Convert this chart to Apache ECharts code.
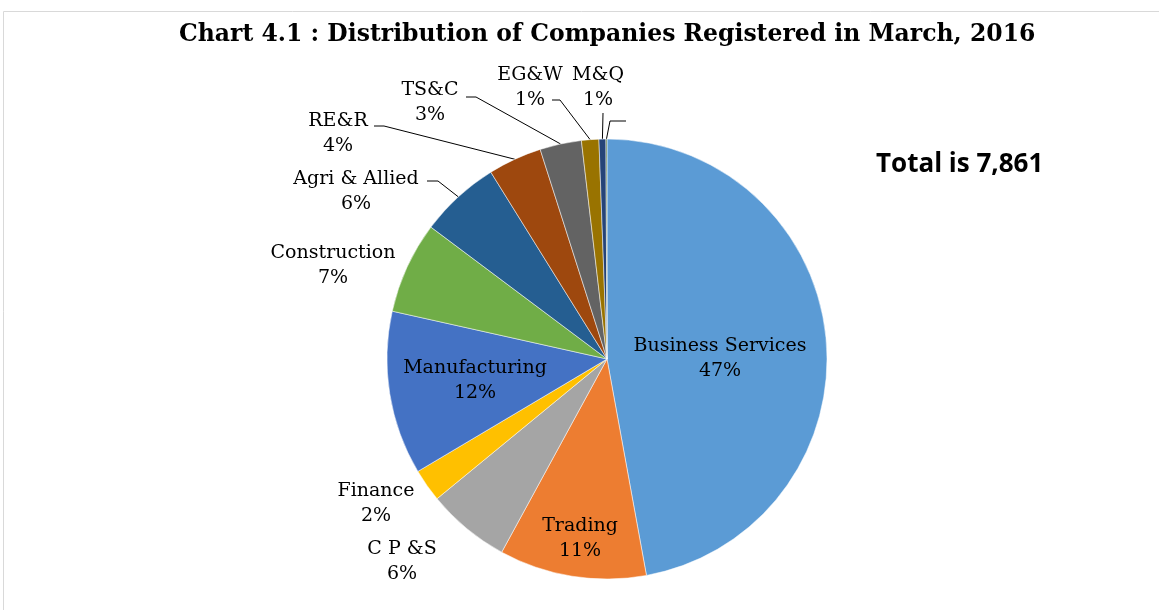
<!DOCTYPE html>
<html>
<head>
<meta charset="utf-8">
<script src="https://cdn.jsdelivr.net/npm/echarts@6/dist/echarts.min.js"></script>
<style>
  html, body { margin: 0; padding: 0; background: #fff; }
  #pieChart { width: 1159px; height: 610px; }
</style>
</head>
<body>
<div id="pieChart"></div>
<script>
// companies registered, March 2016 (total 7,861)
const sectors = ['Business Services', 'Trading', 'C P &S', 'Finance', 'Manufacturing', 'Construction',
  'Agri & Allied', 'RE&R', 'TS&C', 'EG&W', 'M&Q', 'Others']
const counts = [3705, 850, 480, 190, 945, 530, 465, 310, 240, 100, 40, 6]
const colors = ['#5B9BD5', '#ED7D31', '#A5A5A5', '#FFC000', '#4472C4', '#70AD47',
  '#255E91', '#9E480E', '#636363', '#997300', '#264478', '#43682B']

// where each label sits, and the elbow of its leader line (if any)
const labelSpots = {
  'Business Services': { x: 720, y: 359 },
  'Trading': { x: 580, y: 539 },
  'Manufacturing': { x: 475, y: 381 },
  'C P &S': { x: 402, y: 562 },
  'Finance': { x: 376, y: 504 },
  'Construction': { x: 333, y: 266 },
  'Agri & Allied': { x: 356, y: 192, line: [[438, 181], [427, 181]] },
  'RE&R': { x: 338, y: 134, line: [[384, 126], [374, 126]] },
  'TS&C': { x: 430, y: 103, line: [[476, 97], [466, 97]] },
  'EG&W': { x: 530, y: 88, line: [[560, 100], [552, 100]] },
  'M&Q': { x: 598, y: 88, line: [[603, 113], [603, 113]] },
  'Others': { x: 640, y: 119, line: [[610, 121], [626, 121]] }
}
const insideOnes = ['Business Services', 'Trading', 'Manufacturing']
const total = counts.reduce((a, b) => a + b, 0)

const chart = echarts.init(document.getElementById('pieChart'))
chart.setOption({
  animation: false,
  title: {
    text: 'Chart 4.1 : Distribution of Companies Registered in March, 2016',
    left: 174,
    top: 18,
    textStyle: { fontFamily: 'DejaVu Serif', fontWeight: 'bold', fontSize: 23.5, color: '#000' }
  },
  graphic: [
    {
      type: 'rect',
      shape: { x: 3.5, y: 11.5, width: 1170, height: 620 },
      style: { fill: 'none', stroke: '#d9d9d9', lineWidth: 1 }
    },
    {
      type: 'text',
      left: 876,
      top: 152,
      style: { text: 'Total is ' + total.toLocaleString('en-US'), font: 'bold 26px "Open Sans"', fill: '#000' }
    }
  ],
  series: [
    {
      type: 'pie',
      center: [607, 359],
      radius: 220,
      startAngle: 90,
      clockwise: true,
      color: colors,
      itemStyle: { borderColor: '#fff', borderWidth: 0.5 },
      label: {
        fontFamily: 'DejaVu Serif',
        fontSize: 19,
        lineHeight: 25,
        color: '#000',
        align: 'center',
        formatter: p => p.name === 'Others' ? ' ' : p.name + '\n' + Math.round(p.percent) + '%'
      },
      labelLine: { lineStyle: { color: '#000', width: 1 }, length: 10, length2: 10 },
      labelLayout: function (params) {
        const name = sectors[params.dataIndex]
        const spot = labelSpots[name]
        const out = { x: spot.x, y: spot.y, align: 'center', verticalAlign: 'middle' }
        if (spot.line && params.labelLinePoints) {
          out.labelLinePoints = [params.labelLinePoints[0], spot.line[0], spot.line[1]]
        }
        return out
      },
      data: sectors.map((name, i) => ({
        name: name,
        value: counts[i],
        label: insideOnes.includes(name) ? { position: 'inside' } : { position: 'outside' },
        labelLine: { show: !!labelSpots[name].line }
      }))
    }
  ]
})
</script>
</body>
</html>
